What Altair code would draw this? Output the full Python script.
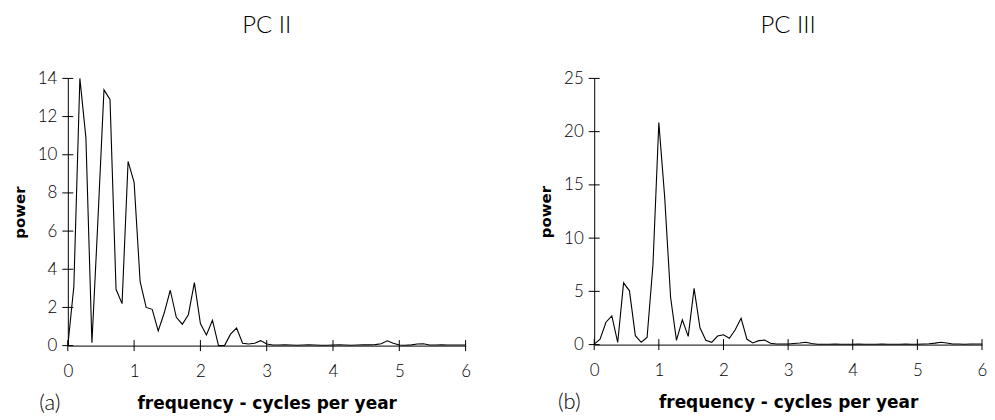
import altair as alt
import pandas as pd

# frequency grid: 67 spectral estimates, step 1/11 cycles per year
freqs = [round(k / 11, 4) for k in range(67)]

pc2_power = [0.0, 3.1, 14.0, 10.9, 0.15, 6.6, 13.4, 12.9, 2.95, 2.2,
             9.65, 8.55, 3.35, 2.0, 1.9, 0.77, 1.72, 2.9, 1.48, 1.12,
             1.62, 3.3, 1.16, 0.56, 1.33, 0.0, 0.0, 0.6, 0.92, 0.12,
             0.08, 0.12, 0.26, 0.08, 0.03, 0.03, 0.04, 0.03, 0.02, 0.03,
             0.04, 0.03, 0.02, 0.02, 0.03, 0.04, 0.03, 0.02, 0.03, 0.04,
             0.04, 0.05, 0.1, 0.25, 0.12, 0.03, 0.02, 0.04, 0.08, 0.1,
             0.03, 0.03, 0.04, 0.03, 0.03, 0.03, 0.03]

pc3_power = [0.05, 0.5, 2.1, 2.7, 0.2, 5.8, 5.05, 0.84, 0.22, 0.68,
             7.5, 20.85, 13.8, 4.45, 0.4, 2.33, 0.77, 5.28, 1.58, 0.4,
             0.22, 0.8, 0.92, 0.6, 1.4, 2.47, 0.5, 0.15, 0.37, 0.42,
             0.12, 0.06, 0.05, 0.05, 0.1, 0.15, 0.22, 0.1, 0.03, 0.03,
             0.04, 0.05, 0.04, 0.03, 0.04, 0.05, 0.04, 0.03, 0.04, 0.05,
             0.04, 0.03, 0.04, 0.05, 0.04, 0.03, 0.05, 0.08, 0.14, 0.22,
             0.15, 0.06, 0.05, 0.04, 0.05, 0.05, 0.05]

x_ticks = [0, 1, 2, 3, 4, 5, 6]
pc2_y_ticks = [0, 2, 4, 6, 8, 10, 12, 14]
pc3_y_ticks = [0, 5, 10, 15, 20, 25]

LABEL_FONT = "Lato"
TITLE_FONT = "DejaVu Sans"


def panel(power, ytop, yticks, title, letter, letter_x, width, height):
    df = pd.DataFrame({"freq": freqs, "power": power})
    x_scale = alt.Scale(domain=[0, 6], nice=False, zero=False)
    y_scale = alt.Scale(domain=[0, ytop], nice=False)
    x_axis = alt.Axis(values=x_ticks, tickCount=len(x_ticks), ticks=False, labelPadding=18,
                      labelOverlap=False, labelFlush=False, titleFontSize=17,
                      title="frequency - cycles per year", titlePadding=16, format="d")
    y_axis = alt.Axis(values=yticks, tickCount=len(yticks), ticks=False, labelPadding=11,
                      labelOverlap=False, labelFlush=False, titleFontSize=15,
                      title="power", titlePadding=10, format="d")
    line = alt.Chart(df).mark_line(color="black", strokeWidth=1.1).encode(
        x=alt.X("freq:Q", scale=x_scale, axis=x_axis),
        y=alt.Y("power:Q", scale=y_scale, axis=y_axis),
    )
    xt = alt.Chart(pd.DataFrame({"freq": x_ticks})).mark_rule(color="black", strokeWidth=1).encode(
        x=alt.X("freq:Q", scale=x_scale, axis=x_axis),
        y=alt.value(height - 5.5),
        y2=alt.value(height + 5.5),
    )
    yt = alt.Chart(pd.DataFrame({"power": yticks})).mark_rule(color="black", strokeWidth=1).encode(
        y=alt.Y("power:Q", scale=y_scale, axis=y_axis),
        x=alt.value(-5.5),
        x2=alt.value(5.5),
    )
    lab = alt.Chart(pd.DataFrame({"l": [letter]})).mark_text(
        font=LABEL_FONT, fontSize=22, fontWeight=300, color="black", baseline="middle", align="center"
    ).encode(text="l:N", x=alt.value(letter_x), y=alt.value(height + 58))
    return alt.layer(line, xt, yt, lab).properties(
        width=width, height=height,
        title=alt.TitleParams(title, font=LABEL_FONT, fontSize=24, fontWeight=300,
                              anchor="middle", frame="group", offset=32, color="black"),
    )


left = panel(pc2_power, 14, pc2_y_ticks, "PC II", "(a)", -18, 399, 268)
right = panel(pc3_power, 25, pc3_y_ticks, "PC III", "(b)", -25, 389, 267)

chart = alt.hconcat(left, right, spacing=68).properties(
    padding={"left": 4, "top": 5, "right": 0, "bottom": 5}
).configure_view(
    strokeWidth=0
).configure_axis(
    grid=False, domainColor="black", domainWidth=1, labelOverlap=False,
    labelColor="black", labelFont=LABEL_FONT, labelFontSize=17, labelFontWeight=300,
    titleColor="black", titleFont=TITLE_FONT, titleFontWeight="bold",
)

chart.save("out.html", embed_options={"renderer": "svg", "actions": False})
